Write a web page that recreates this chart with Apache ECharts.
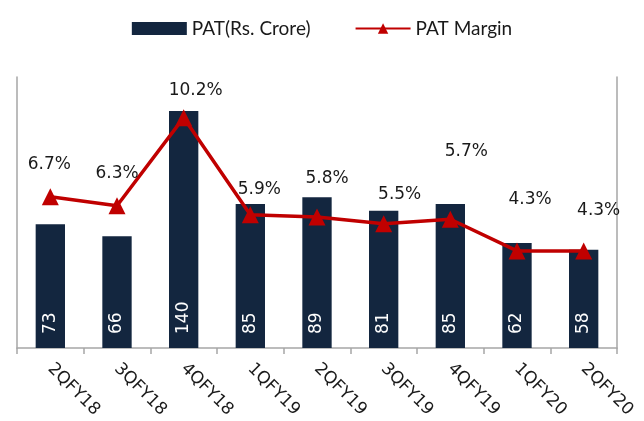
<!DOCTYPE html>
<html><head><meta charset="utf-8">
<script src="https://cdn.jsdelivr.net/npm/echarts@6/dist/echarts.min.js"></script>
<style>html,body{margin:0;padding:0;background:#fff}#c{width:644px;height:421px}</style>
</head><body><div id="c"></div>
<script>
const categories = ['2QFY18','3QFY18','4QFY18','1QFY19','2QFY19','3QFY19','4QFY19','1QFY20','2QFY20'];
const patValues = [73, 66, 140, 85, 89, 81, 85, 62, 58];
const marginValues = [6.7, 6.3, 10.2, 5.9, 5.8, 5.5, 5.7, 4.3, 4.3];

// label placement styling (pixel offsets for the margin labels)
const marginLabelOffsets = [[-1,-7],[0,-7],[12,-2],[9,0],[10,-13],[16,-4],[16,-43],[13,-26],[15,-15]];

const chart = echarts.init(document.getElementById('c'));
const axisGrey = '#a6a6a6';
chart.setOption({
  animation: false,
  legend: {
    top: 14, left: 'center',
    itemGap: 44, itemWidth: 55, itemHeight: 13,
    textStyle: { fontFamily: 'Lato', fontSize: 19, color: '#1a1a1a' },
    data: [
      { name: 'PAT(Rs. Crore)', icon: 'rect' },
      { name: 'PAT Margin' }
    ]
  },
  grid: { left: 17, right: 27, top: 77, bottom: 73, containLabel: false },
  xAxis: {
    type: 'category', data: categories,
    axisLine: { show: true, lineStyle: { color: axisGrey, width: 1.5 } },
    axisTick: { show: true, length: 6, lineStyle: { color: axisGrey, width: 1.5 } },
    axisLabel: { rotate: -45, margin: 18, fontFamily: 'DejaVu Sans', fontSize: 17, color: '#1a1a1a' }
  },
  yAxis: [
    { type: 'value', min: 0, max: 160, splitLine: { show: false },
      axisLine: { show: true, lineStyle: { color: axisGrey, width: 1.5 } },
      axisTick: { show: false }, axisLabel: { show: false } },
    { type: 'value', min: 0, max: 12, splitLine: { show: false },
      axisLine: { show: true, lineStyle: { color: axisGrey, width: 1.5 } },
      axisTick: { show: false }, axisLabel: { show: false } }
  ],
  series: [
    {
      name: 'PAT(Rs. Crore)', type: 'bar', data: patValues, barWidth: '44%',
      itemStyle: { color: '#13263f' },
      label: { show: true, position: 'insideBottom', rotate: 90, align: 'left', verticalAlign: 'middle',
               distance: 14, color: '#fff', fontFamily: 'DejaVu Sans', fontSize: 17 }
    },
    {
      name: 'PAT Margin', type: 'line', yAxisIndex: 1,
      data: marginValues.map((v, i) => ({ value: v, label: { offset: marginLabelOffsets[i] } })),
      symbol: 'triangle', symbolSize: 17,
      lineStyle: { color: '#c00000', width: 3.5 },
      itemStyle: { color: '#c00000' },
      label: { show: true, position: 'top', distance: 8, formatter: p => p.value.toFixed(1) + '%',
               color: '#1a1a1a', fontFamily: 'DejaVu Sans', fontSize: 17 }
    }
  ]
});
</script></body></html>
